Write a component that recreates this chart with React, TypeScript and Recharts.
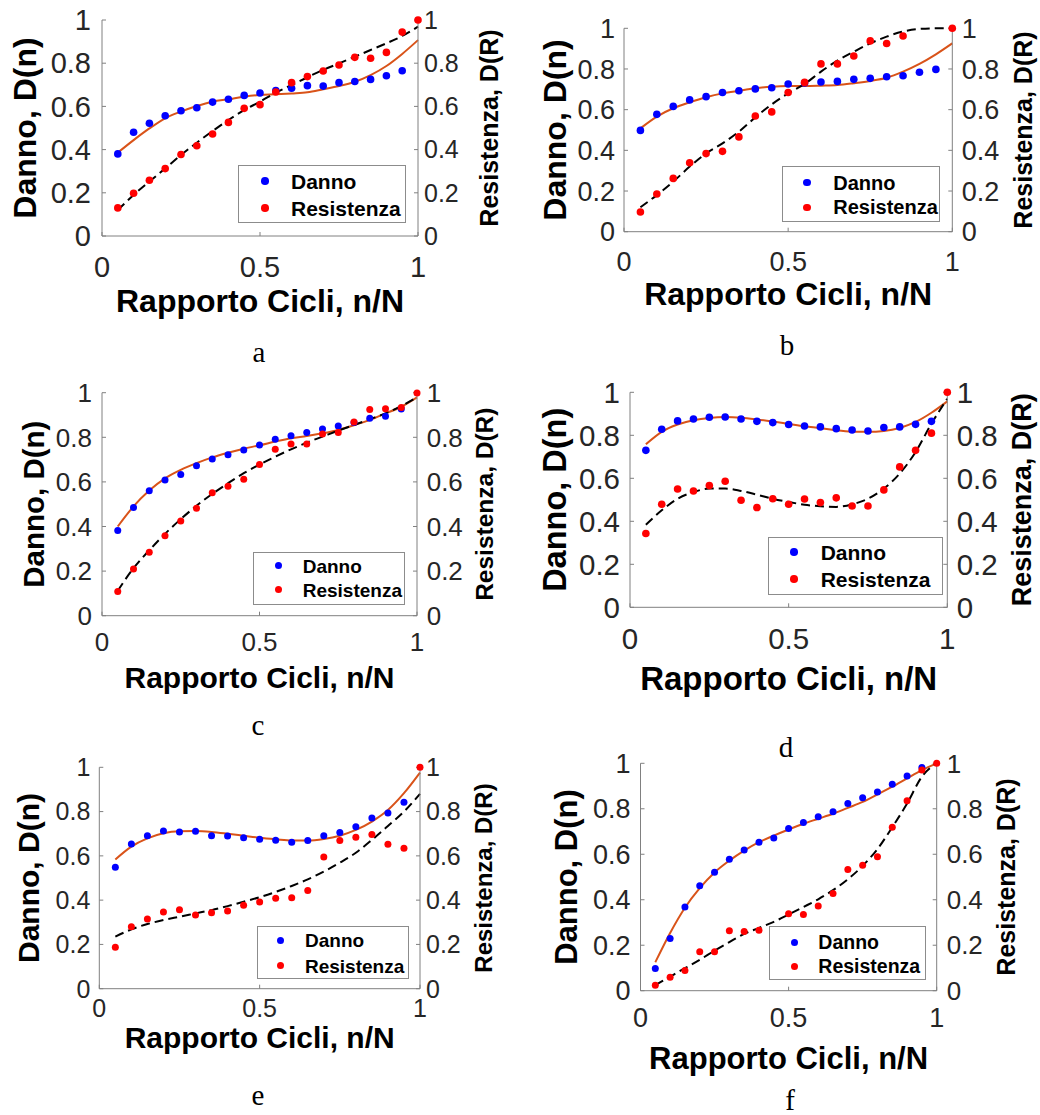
import React from 'react';
import { ComposedChart, Scatter, Line, XAxis, YAxis, Legend } from 'recharts';

// n/N sampled every 0.05 (Danno has no point at 1)
const cicli = [0.05, 0.1, 0.15, 0.2, 0.25, 0.3, 0.35, 0.4, 0.45, 0.5, 0.55, 0.6, 0.65, 0.7, 0.75, 0.8, 0.85, 0.9, 0.95, 1];
const xTicks = [0, 0.5, 1];
const yTicks = [0, 0.2, 0.4, 0.6, 0.8, 1];

// panel a
const dannoA = [0.38, 0.48, 0.522, 0.557, 0.58, 0.594, 0.62, 0.633, 0.651, 0.662, 0.673, 0.684, 0.696, 0.694, 0.71, 0.715, 0.725, 0.742, 0.765];
const resistA = [0.13, 0.198, 0.258, 0.312, 0.377, 0.418, 0.472, 0.526, 0.591, 0.608, 0.667, 0.71, 0.738, 0.764, 0.792, 0.827, 0.823, 0.85, 0.944, 1];
const fitDannoA = [0.386, 0.444, 0.498, 0.545, 0.576, 0.602, 0.622, 0.633, 0.645, 0.653, 0.656, 0.66, 0.665, 0.679, 0.694, 0.714, 0.745, 0.787, 0.843, 0.907];
const fitResistA = [0.12, 0.19, 0.252, 0.313, 0.375, 0.432, 0.486, 0.537, 0.583, 0.622, 0.664, 0.699, 0.735, 0.769, 0.799, 0.83, 0.861, 0.892, 0.926, 0.969];

// panel b (two Resistenza points lie above the axis limit)
const dannoB = [0.498, 0.577, 0.616, 0.648, 0.664, 0.684, 0.693, 0.702, 0.708, 0.726, 0.731, 0.736, 0.739, 0.749, 0.754, 0.762, 0.767, 0.784, 0.798];
const resistB = [0.097, 0.185, 0.262, 0.339, 0.384, 0.395, 0.466, 0.569, 0.589, 0.684, 0.734, 0.825, 0.825, 0.864, 0.938, 0.925, 0.962, null, null, 1];
const fitDannoB = [0.508, 0.566, 0.607, 0.636, 0.661, 0.68, 0.693, 0.705, 0.713, 0.716, 0.716, 0.718, 0.721, 0.73, 0.741, 0.757, 0.787, 0.825, 0.872, 0.926];
const fitResistB = [0.12, 0.18, 0.246, 0.32, 0.385, 0.434, 0.492, 0.562, 0.626, 0.68, 0.726, 0.787, 0.841, 0.885, 0.926, 0.959, 0.984, 0.997, 1, 1];

// panel c
const dannoC = [0.382, 0.485, 0.56, 0.609, 0.633, 0.672, 0.703, 0.722, 0.743, 0.766, 0.791, 0.807, 0.821, 0.837, 0.851, 0.866, 0.885, 0.894, 0.927];
const resistC = [0.109, 0.209, 0.284, 0.358, 0.425, 0.482, 0.551, 0.581, 0.612, 0.678, 0.746, 0.77, 0.77, 0.815, 0.822, 0.869, 0.925, 0.928, 0.934, 0.999];
const fitDannoC = [0.4, 0.49, 0.561, 0.616, 0.654, 0.684, 0.71, 0.731, 0.749, 0.764, 0.781, 0.796, 0.806, 0.818, 0.833, 0.854, 0.878, 0.907, 0.937, 0.979];
const fitResistC = [0.112, 0.213, 0.293, 0.367, 0.433, 0.493, 0.546, 0.594, 0.639, 0.678, 0.713, 0.746, 0.776, 0.803, 0.83, 0.855, 0.881, 0.907, 0.94, 0.979];

// panel d
const dannoD = [0.73, 0.828, 0.867, 0.876, 0.884, 0.885, 0.876, 0.865, 0.859, 0.85, 0.843, 0.839, 0.831, 0.825, 0.82, 0.836, 0.839, 0.851, 0.865];
const resistD = [0.343, 0.479, 0.55, 0.541, 0.566, 0.586, 0.498, 0.464, 0.505, 0.479, 0.504, 0.487, 0.509, 0.471, 0.471, 0.546, 0.653, 0.73, 0.81, 1];
const fitDannoD = [0.758, 0.816, 0.85, 0.87, 0.881, 0.885, 0.882, 0.874, 0.864, 0.853, 0.842, 0.833, 0.823, 0.817, 0.816, 0.82, 0.834, 0.862, 0.905, 0.958];
const fitResistD = [0.384, 0.451, 0.505, 0.536, 0.552, 0.552, 0.541, 0.524, 0.505, 0.49, 0.477, 0.47, 0.467, 0.479, 0.505, 0.552, 0.622, 0.722, 0.854, 0.97];

// panel e
const dannoE = [0.548, 0.654, 0.691, 0.712, 0.708, 0.711, 0.691, 0.69, 0.682, 0.675, 0.67, 0.661, 0.669, 0.691, 0.706, 0.732, 0.771, 0.794, 0.842];
const resistE = [0.187, 0.28, 0.315, 0.346, 0.357, 0.333, 0.343, 0.351, 0.377, 0.392, 0.408, 0.411, 0.443, 0.595, 0.669, 0.684, 0.697, 0.652, 0.634, 1];
const fitDannoE = [0.584, 0.642, 0.679, 0.702, 0.711, 0.712, 0.708, 0.7, 0.691, 0.682, 0.675, 0.669, 0.669, 0.676, 0.691, 0.717, 0.755, 0.807, 0.883, 0.976];
const fitResistE = [0.235, 0.268, 0.292, 0.31, 0.325, 0.34, 0.355, 0.373, 0.393, 0.413, 0.437, 0.464, 0.494, 0.529, 0.569, 0.614, 0.672, 0.735, 0.8, 0.88];

// panel f (the 0.45 Resistenza point sits behind the legend)
const dannoF = [0.098, 0.23, 0.368, 0.462, 0.521, 0.578, 0.619, 0.653, 0.672, 0.713, 0.74, 0.765, 0.787, 0.823, 0.849, 0.874, 0.908, 0.944, 0.982];
const resistF = [0.024, 0.059, 0.089, 0.171, 0.171, 0.264, 0.26, 0.266, 0.265, 0.338, 0.335, 0.372, 0.427, 0.533, 0.552, 0.589, 0.719, 0.835, 0.97, 1];
const fitDannoF = [0.125, 0.254, 0.365, 0.451, 0.52, 0.572, 0.616, 0.653, 0.682, 0.709, 0.734, 0.756, 0.778, 0.804, 0.83, 0.863, 0.897, 0.934, 0.97, 1];
const fitResistF = [0.025, 0.062, 0.099, 0.136, 0.176, 0.214, 0.25, 0.276, 0.303, 0.335, 0.368, 0.402, 0.442, 0.49, 0.549, 0.623, 0.719, 0.823, 0.941, 1];

const FONT = '"Liberation Sans", Arial, Helvetica, sans-serif';
const SERIF = '"Liberation Serif", "Times New Roman", serif';
const AXIS_GREY = '#808080';
const TEXT = '#262626';
const BLUE = '#0000ff';
const RED = '#ff0000';
const ORANGE = '#d95319';

const CHART_W = 520;
const CHART_H = 345;
const LEFT_W = 90;
const RIGHT_W = 80;
const X_H = 60;
const TICK = -4; // ticks point into the box, like MATLAB

type Pt = { x: number; y: number };
const toPoints = (vals: (number | null)[]): Pt[] =>
  vals.flatMap((y, i) => (y === null ? [] : [{ x: cicli[i], y }]));

interface PanelCfg {
  key: string;
  left: number;
  top: number;
  plot: { x: number; y: number; w: number; h: number };
  tick: number;
  rTick: number;
  yTitle: number;
  rTitle: number;
  xTitle: number;
  yTitleX: number;
  rTitleX: number;
  xTitleY: number;
  lGap: number;
  rGap: number;
  xGap: number;
  legend: { x: number; y: number; w: number; h: number; dotX: number; rows: number[]; textX: number; fs: number };
  r: number;
  letter: [number, number];
  danno: number[];
  resist: (number | null)[];
  fitDanno: number[];
  fitResist: number[];
}

const PANELS: PanelCfg[] = [
  {
    key: 'a', left: 0, top: 0, plot: { x: 102, y: 20, w: 316, h: 216 },
    tick: 29, rTick: 25, yTitle: 32, rTitle: 25, xTitle: 32,
    yTitleX: 36, rTitleX: 498, xTitleY: 312, lGap: 11, rGap: 6, xGap: 20.5,
    legend: { x: 238, y: 165, w: 168, h: 58, dotX: 27, rows: [16, 43], textX: 53, fs: 21 },
    r: 3.8, letter: [259, 362],
    danno: dannoA, resist: resistA, fitDanno: fitDannoA, fitResist: fitResistA,
  },
  {
    key: 'b', left: 520, top: 0, plot: { x: 104, y: 28.3, w: 328.3, h: 203.4 },
    tick: 27, rTick: 27, yTitle: 32, rTitle: 25, xTitle: 32,
    yTitleX: 46, rTitleX: 512, xTitleY: 305, lGap: 9, rGap: 9.4, xGap: 20,
    legend: { x: 261.7, y: 166, w: 158.3, h: 55.7, dotX: 25.6, rows: [16.7, 41.3], textX: 51.6, fs: 20 },
    r: 3.8, letter: [787, 355],
    danno: dannoB, resist: resistB, fitDanno: fitDannoB, fitResist: fitResistB,
  },
  {
    key: 'c', left: 0, top: 370, plot: { x: 102, y: 22.7, w: 315, h: 223 },
    tick: 26, rTick: 26, yTitle: 29.5, rTitle: 24.5, xTitle: 30,
    yTitleX: 44, rTitleX: 493, xTitleY: 318, lGap: 10, rGap: 9.7, xGap: 17,
    legend: { x: 253, y: 181.7, w: 152, h: 53.3, dotX: 25.3, rows: [14, 38.3], textX: 49.7, fs: 19 },
    r: 3.5, letter: [258, 735],
    danno: dannoC, resist: resistC, fitDanno: fitDannoC, fitResist: fitResistC,
  },
  {
    key: 'd', left: 520, top: 370, plot: { x: 110, y: 22.3, w: 317.3, h: 215 },
    tick: 29.5, rTick: 29.5, yTitle: 32.5, rTitle: 27, xTitle: 33,
    yTitleX: 46, rTitleX: 511, xTitleY: 320, lGap: 10, rGap: 9.4, xGap: 21,
    legend: { x: 247.7, y: 166.7, w: 175.6, h: 58.3, dotX: 26.6, rows: [15.6, 42.6], textX: 53, fs: 21 },
    r: 3.8, letter: [786, 757],
    danno: dannoD, resist: resistD, fitDanno: fitDannoD, fitResist: fitResistD,
  },
  {
    key: 'e', left: 0, top: 740, plot: { x: 99.3, y: 27.3, w: 320.7, h: 221.4 },
    tick: 25, rTick: 25, yTitle: 30, rTitle: 24, xTitle: 30,
    yTitleX: 39, rTitleX: 492, xTitleY: 308, lGap: 9, rGap: 6, xGap: 10.5,
    legend: { x: 256.7, y: 186, w: 152.3, h: 53.3, dotX: 24.3, rows: [14.3, 39.7], textX: 48.3, fs: 19 },
    r: 3.5, letter: [258, 1105],
    danno: dannoE, resist: resistE, fitDanno: fitDannoE, fitResist: fitResistE,
  },
  {
    key: 'f', left: 520, top: 740, plot: { x: 120.5, y: 23.3, w: 296.2, h: 227.4 },
    tick: 27, rTick: 26, yTitle: 31, rTitle: 25, xTitle: 31,
    yTitleX: 56.5, rTitleX: 495, xTitleY: 329, lGap: 10, rGap: 10, xGap: 17,
    legend: { x: 249.3, y: 186, w: 156.4, h: 54, dotX: 25.7, rows: [16.7, 40.7], textX: 49, fs: 19.5 },
    r: 3.5, letter: [790, 1110],
    danno: dannoF, resist: resistF, fitDanno: fitDannoF, fitResist: fitResistF,
  },
];

const dotShape = (color: string, r: number) => (props: any) =>
  <circle cx={props.cx} cy={props.cy} r={r} fill={color} />;

// vertical axis title, reading bottom to top; x is the baseline
function vTitle(x: number, y: number, size: number, text: string) {
  return (
    <text
      x={x}
      y={y}
      transform={`rotate(-90 ${x} ${y})`}
      textAnchor="middle"
      fontSize={size}
      fontFamily={FONT}
      fontWeight={700}
      fill="#000"
    >
      {text}
    </text>
  );
}

function LegendBox({ cfg, payload }: { cfg: PanelCfg; payload?: any[] }) {
  const lg = cfg.legend;
  const items = (payload || []).filter((p) => p.type !== 'none');
  return (
    <div
      style={{
        position: 'relative',
        width: lg.w,
        height: lg.h,
        boxSizing: 'border-box',
        border: '1px solid #8c8c8c',
        background: '#fff',
      }}
    >
      {items.map((item, i) => (
        <React.Fragment key={item.value}>
          <span
            style={{
              position: 'absolute',
              left: lg.dotX - cfg.r - 1,
              top: lg.rows[i] - cfg.r - 1,
              width: cfg.r * 2,
              height: cfg.r * 2,
              borderRadius: '50%',
              background: item.color,
            }}
          />
          <span
            style={{
              position: 'absolute',
              left: lg.textX - 1,
              top: lg.rows[i] - 1,
              transform: 'translateY(-50%)',
              fontFamily: FONT,
              fontWeight: 700,
              fontSize: lg.fs,
              lineHeight: 1,
              color: '#000',
              whiteSpace: 'nowrap',
            }}
          >
            {item.value}
          </span>
        </React.Fragment>
      ))}
    </div>
  );
}

function Panel({ cfg }: { cfg: PanelCfg }) {
  const { plot } = cfg;
  const margin = {
    top: plot.y,
    left: plot.x - LEFT_W,
    right: CHART_W - plot.x - plot.w - RIGHT_W,
    bottom: CHART_H - plot.y - plot.h - X_H,
  };
  const midY = plot.y + plot.h / 2;
  const axisLine = { stroke: AXIS_GREY, strokeWidth: 1 };

  return (
    <div style={{ position: 'absolute', left: cfg.left, top: cfg.top, width: CHART_W, height: CHART_H }}>
      <ComposedChart width={CHART_W} height={CHART_H} margin={margin}>
        <XAxis
          type="number"
          dataKey="x"
          domain={[0, 1]}
          ticks={xTicks}
          interval={0}
          height={X_H}
          tickSize={TICK}
          tickMargin={cfg.xGap + 4}
          axisLine={axisLine}
          tickLine={axisLine}
          tick={{ fontSize: cfg.tick, fill: TEXT, fontFamily: FONT }}
          label={() => (
            <text
              x={plot.x + plot.w / 2}
              y={cfg.xTitleY}
              textAnchor="middle"
              fontSize={cfg.xTitle}
              fontFamily={FONT}
              fontWeight={700}
              fill="#000"
            >
              Rapporto Cicli, n/N
            </text>
          )}
        />
        <YAxis
          yAxisId="left"
          orientation="left"
          type="number"
          dataKey="y"
          domain={[0, 1]}
          ticks={yTicks}
          interval={0}
          width={LEFT_W}
          tickSize={TICK}
          tickMargin={cfg.lGap + 4}
          axisLine={axisLine}
          tickLine={axisLine}
          tick={{ fontSize: cfg.tick, fill: TEXT, fontFamily: FONT }}
          label={() => vTitle(cfg.yTitleX, midY, cfg.yTitle, 'Danno, D(n)')}
        />
        <YAxis
          yAxisId="right"
          orientation="right"
          type="number"
          dataKey="y"
          domain={[0, 1]}
          ticks={yTicks}
          interval={0}
          width={RIGHT_W}
          tickSize={TICK}
          tickMargin={cfg.rGap + 4}
          axisLine={axisLine}
          tickLine={axisLine}
          tick={{ fontSize: cfg.rTick, fill: TEXT, fontFamily: FONT }}
          label={() => vTitle(cfg.rTitleX, midY, cfg.rTitle, 'Resistenza, D(R)')}
        />

        <Scatter
          name="Danno"
          yAxisId="left"
          data={toPoints(cfg.danno)}
          dataKey="y"
          fill={BLUE}
          shape={dotShape(BLUE, cfg.r)}
          isAnimationActive={false}
        />
        <Scatter
          name="Resistenza"
          yAxisId="right"
          data={toPoints(cfg.resist)}
          dataKey="y"
          fill={RED}
          shape={dotShape(RED, cfg.r)}
          isAnimationActive={false}
        />
        <Line
          yAxisId="left"
          data={toPoints(cfg.fitDanno)}
          dataKey="y"
          type="monotone"
          stroke={ORANGE}
          strokeWidth={2}
          dot={false}
          activeDot={false}
          legendType="none"
          isAnimationActive={false}
        />
        <Line
          yAxisId="right"
          data={toPoints(cfg.fitResist)}
          dataKey="y"
          type="monotone"
          stroke="#000"
          strokeWidth={2}
          strokeDasharray="9 5"
          dot={false}
          activeDot={false}
          legendType="none"
          isAnimationActive={false}
        />

        <Legend
          layout="vertical"
          align="center"
          verticalAlign="middle"
          wrapperStyle={{ left: cfg.legend.x, top: cfg.legend.y, width: cfg.legend.w, height: cfg.legend.h }}
          content={(props: any) => <LegendBox cfg={cfg} payload={props.payload} />}
        />
      </ComposedChart>
    </div>
  );
}

export default function App() {
  const letterSize = 29;
  return (
    <div
      style={{
        position: 'absolute',
        left: 0,
        top: 0,
        width: 1040,
        height: 1115,
        background: '#fff',
        overflow: 'hidden',
      }}
    >
      {PANELS.map((p) => (
        <Panel key={p.key} cfg={p} />
      ))}
      {PANELS.map((p) => (
        <div
          key={`letter-${p.key}`}
          style={{
            position: 'absolute',
            left: p.letter[0] - 20,
            top: p.letter[1] - letterSize * 0.84,
            width: 40,
            textAlign: 'center',
            fontFamily: SERIF,
            fontSize: letterSize,
            lineHeight: 1,
            color: '#000',
          }}
        >
          {p.key}
        </div>
      ))}
    </div>
  );
}
